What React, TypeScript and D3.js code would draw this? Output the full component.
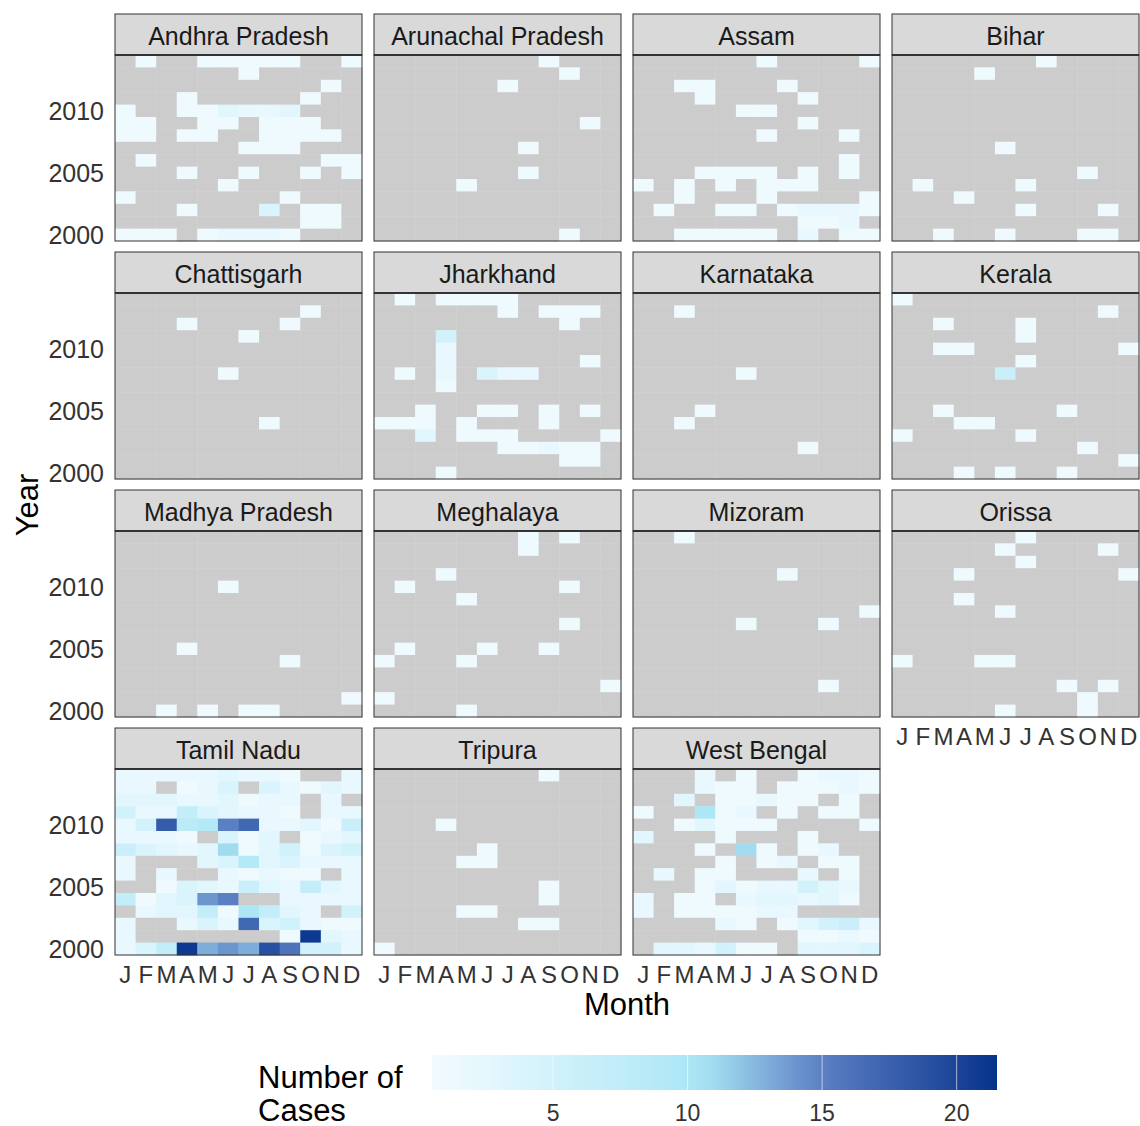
import React from 'react';
import * as d3 from 'd3';

// rows run from 2014 (top) down to 2000 (bottom), columns Jan..Dec; 0 = no data
const YEARS = [2014, 2013, 2012, 2011, 2010, 2009, 2008, 2007, 2006, 2005, 2004, 2003, 2002, 2001, 2000];
const MONTHS = ['J', 'F', 'M', 'A', 'M', 'J', 'J', 'A', 'S', 'O', 'N', 'D'];
const YEAR_TICKS = [2000, 2005, 2010];
const LEGEND_TICKS = [5, 10, 15, 20];

const andhraPradesh = [
  [0, 1, 0, 0, 1, 1, 1, 1, 1, 0, 0, 1],
  [0, 0, 0, 0, 0, 0, 1, 0, 0, 0, 0, 0],
  [0, 0, 0, 0, 0, 0, 0, 0, 0, 0, 1, 0],
  [0, 0, 0, 1, 0, 0, 0, 0, 0, 1, 0, 0],
  [1, 0, 0, 1, 1, 3, 2, 2, 3, 0, 0, 0],
  [1, 1, 0, 0, 1, 1, 0, 1, 1, 1, 0, 0],
  [1, 1, 0, 1, 1, 0, 0, 1, 1, 1, 1, 0],
  [0, 0, 0, 0, 0, 0, 1, 1, 1, 0, 0, 0],
  [0, 1, 0, 0, 0, 0, 0, 0, 0, 0, 1, 1],
  [0, 0, 0, 1, 0, 0, 1, 0, 0, 1, 0, 1],
  [0, 0, 0, 0, 0, 1, 0, 0, 0, 0, 0, 0],
  [1, 0, 0, 0, 0, 0, 0, 0, 1, 0, 0, 0],
  [0, 0, 0, 1, 0, 0, 0, 4, 0, 1, 1, 0],
  [0, 0, 0, 0, 0, 0, 0, 0, 0, 1, 1, 0],
  [1, 1, 1, 0, 1, 2, 2, 2, 1, 0, 0, 0],
];
const arunachalPradesh = [
  [0, 0, 0, 0, 0, 0, 0, 0, 1, 0, 0, 0],
  [0, 0, 0, 0, 0, 0, 0, 0, 0, 1, 0, 0],
  [0, 0, 0, 0, 0, 0, 1, 0, 0, 0, 0, 0],
  [0, 0, 0, 0, 0, 0, 0, 0, 0, 0, 0, 0],
  [0, 0, 0, 0, 0, 0, 0, 0, 0, 0, 0, 0],
  [0, 0, 0, 0, 0, 0, 0, 0, 0, 0, 1, 0],
  [0, 0, 0, 0, 0, 0, 0, 0, 0, 0, 0, 0],
  [0, 0, 0, 0, 0, 0, 0, 1, 0, 0, 0, 0],
  [0, 0, 0, 0, 0, 0, 0, 0, 0, 0, 0, 0],
  [0, 0, 0, 0, 0, 0, 0, 1, 0, 0, 0, 0],
  [0, 0, 0, 0, 1, 0, 0, 0, 0, 0, 0, 0],
  [0, 0, 0, 0, 0, 0, 0, 0, 0, 0, 0, 0],
  [0, 0, 0, 0, 0, 0, 0, 0, 0, 0, 0, 0],
  [0, 0, 0, 0, 0, 0, 0, 0, 0, 0, 0, 0],
  [0, 0, 0, 0, 0, 0, 0, 0, 0, 1, 0, 0],
];
const assam = [
  [0, 0, 0, 0, 0, 0, 1, 0, 0, 0, 0, 1],
  [0, 0, 0, 0, 0, 0, 0, 0, 0, 0, 0, 0],
  [0, 0, 1, 1, 0, 0, 0, 1, 0, 0, 0, 0],
  [0, 0, 0, 1, 0, 0, 0, 0, 1, 0, 0, 0],
  [0, 0, 0, 0, 0, 1, 1, 0, 0, 0, 0, 0],
  [0, 0, 0, 0, 0, 0, 0, 0, 1, 0, 0, 0],
  [0, 0, 0, 0, 0, 0, 1, 0, 0, 0, 1, 0],
  [0, 0, 0, 0, 0, 0, 0, 0, 0, 0, 0, 0],
  [0, 0, 0, 0, 0, 0, 0, 0, 0, 0, 1, 0],
  [0, 0, 0, 1, 1, 1, 1, 0, 1, 0, 1, 0],
  [1, 0, 1, 0, 1, 0, 1, 1, 1, 0, 0, 0],
  [0, 0, 1, 0, 0, 0, 1, 0, 0, 0, 0, 1],
  [0, 1, 0, 0, 1, 1, 0, 1, 2, 2, 2, 1],
  [0, 0, 0, 0, 0, 0, 0, 0, 1, 1, 2, 0],
  [0, 0, 1, 1, 1, 1, 1, 0, 2, 0, 1, 1],
];
const bihar = [
  [0, 0, 0, 0, 0, 0, 0, 1, 0, 0, 0, 0],
  [0, 0, 0, 0, 1, 0, 0, 0, 0, 0, 0, 0],
  [0, 0, 0, 0, 0, 0, 0, 0, 0, 0, 0, 0],
  [0, 0, 0, 0, 0, 0, 0, 0, 0, 0, 0, 0],
  [0, 0, 0, 0, 0, 0, 0, 0, 0, 0, 0, 0],
  [0, 0, 0, 0, 0, 0, 0, 0, 0, 0, 0, 0],
  [0, 0, 0, 0, 0, 0, 0, 0, 0, 0, 0, 0],
  [0, 0, 0, 0, 0, 1, 0, 0, 0, 0, 0, 0],
  [0, 0, 0, 0, 0, 0, 0, 0, 0, 0, 0, 0],
  [0, 0, 0, 0, 0, 0, 0, 0, 0, 1, 0, 0],
  [0, 1, 0, 0, 0, 0, 1, 0, 0, 0, 0, 0],
  [0, 0, 0, 1, 0, 0, 0, 0, 0, 0, 0, 0],
  [0, 0, 0, 0, 0, 0, 1, 0, 0, 0, 1, 0],
  [0, 0, 0, 0, 0, 0, 0, 0, 0, 0, 0, 0],
  [0, 0, 1, 0, 0, 1, 0, 0, 0, 1, 1, 0],
];
const chattisgarh = [
  [0, 0, 0, 0, 0, 0, 0, 0, 0, 0, 0, 0],
  [0, 0, 0, 0, 0, 0, 0, 0, 0, 1, 0, 0],
  [0, 0, 0, 1, 0, 0, 0, 0, 1, 0, 0, 0],
  [0, 0, 0, 0, 0, 0, 1, 0, 0, 0, 0, 0],
  [0, 0, 0, 0, 0, 0, 0, 0, 0, 0, 0, 0],
  [0, 0, 0, 0, 0, 0, 0, 0, 0, 0, 0, 0],
  [0, 0, 0, 0, 0, 1, 0, 0, 0, 0, 0, 0],
  [0, 0, 0, 0, 0, 0, 0, 0, 0, 0, 0, 0],
  [0, 0, 0, 0, 0, 0, 0, 0, 0, 0, 0, 0],
  [0, 0, 0, 0, 0, 0, 0, 0, 0, 0, 0, 0],
  [0, 0, 0, 0, 0, 0, 0, 1, 0, 0, 0, 0],
  [0, 0, 0, 0, 0, 0, 0, 0, 0, 0, 0, 0],
  [0, 0, 0, 0, 0, 0, 0, 0, 0, 0, 0, 0],
  [0, 0, 0, 0, 0, 0, 0, 0, 0, 0, 0, 0],
  [0, 0, 0, 0, 0, 0, 0, 0, 0, 0, 0, 0],
];
const jharkhand = [
  [0, 1, 0, 1, 1, 1, 1, 0, 0, 0, 0, 0],
  [0, 0, 0, 0, 0, 0, 1, 0, 1, 1, 1, 0],
  [0, 0, 0, 0, 0, 0, 0, 0, 0, 1, 0, 0],
  [0, 0, 0, 5, 0, 0, 0, 0, 0, 0, 0, 0],
  [0, 0, 0, 2, 0, 0, 0, 0, 0, 0, 0, 0],
  [0, 0, 0, 2, 0, 0, 0, 0, 0, 0, 1, 0],
  [0, 1, 0, 2, 0, 4, 2, 2, 0, 0, 0, 0],
  [0, 0, 0, 1, 0, 0, 0, 0, 0, 0, 0, 0],
  [0, 0, 0, 0, 0, 0, 0, 0, 0, 0, 0, 0],
  [0, 0, 1, 0, 0, 1, 1, 0, 1, 0, 1, 0],
  [1, 1, 1, 0, 1, 0, 0, 0, 1, 0, 0, 0],
  [0, 0, 3, 0, 1, 1, 1, 0, 0, 0, 0, 1],
  [0, 0, 0, 0, 0, 0, 1, 1, 2, 1, 1, 0],
  [0, 0, 0, 0, 0, 0, 0, 0, 0, 1, 1, 0],
  [0, 0, 0, 1, 0, 0, 0, 0, 0, 0, 0, 0],
];
const karnataka = [
  [0, 0, 0, 0, 0, 0, 0, 0, 0, 0, 0, 0],
  [0, 0, 1, 0, 0, 0, 0, 0, 0, 0, 0, 0],
  [0, 0, 0, 0, 0, 0, 0, 0, 0, 0, 0, 0],
  [0, 0, 0, 0, 0, 0, 0, 0, 0, 0, 0, 0],
  [0, 0, 0, 0, 0, 0, 0, 0, 0, 0, 0, 0],
  [0, 0, 0, 0, 0, 0, 0, 0, 0, 0, 0, 0],
  [0, 0, 0, 0, 0, 1, 0, 0, 0, 0, 0, 0],
  [0, 0, 0, 0, 0, 0, 0, 0, 0, 0, 0, 0],
  [0, 0, 0, 0, 0, 0, 0, 0, 0, 0, 0, 0],
  [0, 0, 0, 1, 0, 0, 0, 0, 0, 0, 0, 0],
  [0, 0, 1, 0, 0, 0, 0, 0, 0, 0, 0, 0],
  [0, 0, 0, 0, 0, 0, 0, 0, 0, 0, 0, 0],
  [0, 0, 0, 0, 0, 0, 0, 0, 1, 0, 0, 0],
  [0, 0, 0, 0, 0, 0, 0, 0, 0, 0, 0, 0],
  [0, 0, 0, 0, 0, 0, 0, 0, 0, 0, 0, 0],
];
const kerala = [
  [1, 0, 0, 0, 0, 0, 0, 0, 0, 0, 0, 0],
  [0, 0, 0, 0, 0, 0, 0, 0, 0, 0, 1, 0],
  [0, 0, 1, 0, 0, 0, 1, 0, 0, 0, 0, 0],
  [0, 0, 0, 0, 0, 0, 1, 0, 0, 0, 0, 0],
  [0, 0, 1, 1, 0, 0, 0, 0, 0, 0, 0, 1],
  [0, 0, 0, 0, 0, 0, 1, 0, 0, 0, 0, 0],
  [0, 0, 0, 0, 0, 6, 0, 0, 0, 0, 0, 0],
  [0, 0, 0, 0, 0, 0, 0, 0, 0, 0, 0, 0],
  [0, 0, 0, 0, 0, 0, 0, 0, 0, 0, 0, 0],
  [0, 0, 1, 0, 0, 0, 0, 0, 1, 0, 0, 0],
  [0, 0, 0, 1, 1, 0, 0, 0, 0, 0, 0, 0],
  [1, 0, 0, 0, 0, 0, 1, 0, 0, 0, 0, 0],
  [0, 0, 0, 0, 0, 0, 0, 0, 0, 1, 0, 0],
  [0, 0, 0, 0, 0, 0, 0, 0, 0, 0, 0, 1],
  [0, 0, 0, 1, 0, 1, 0, 0, 1, 0, 0, 0],
];
const madhyaPradesh = [
  [0, 0, 0, 0, 0, 0, 0, 0, 0, 0, 0, 0],
  [0, 0, 0, 0, 0, 0, 0, 0, 0, 0, 0, 0],
  [0, 0, 0, 0, 0, 0, 0, 0, 0, 0, 0, 0],
  [0, 0, 0, 0, 0, 0, 0, 0, 0, 0, 0, 0],
  [0, 0, 0, 0, 0, 1, 0, 0, 0, 0, 0, 0],
  [0, 0, 0, 0, 0, 0, 0, 0, 0, 0, 0, 0],
  [0, 0, 0, 0, 0, 0, 0, 0, 0, 0, 0, 0],
  [0, 0, 0, 0, 0, 0, 0, 0, 0, 0, 0, 0],
  [0, 0, 0, 0, 0, 0, 0, 0, 0, 0, 0, 0],
  [0, 0, 0, 1, 0, 0, 0, 0, 0, 0, 0, 0],
  [0, 0, 0, 0, 0, 0, 0, 0, 1, 0, 0, 0],
  [0, 0, 0, 0, 0, 0, 0, 0, 0, 0, 0, 0],
  [0, 0, 0, 0, 0, 0, 0, 0, 0, 0, 0, 0],
  [0, 0, 0, 0, 0, 0, 0, 0, 0, 0, 0, 1],
  [0, 0, 1, 0, 1, 0, 1, 1, 0, 0, 0, 0],
];
const meghalaya = [
  [0, 0, 0, 0, 0, 0, 0, 1, 0, 1, 0, 0],
  [0, 0, 0, 0, 0, 0, 0, 1, 0, 0, 0, 0],
  [0, 0, 0, 0, 0, 0, 0, 0, 0, 0, 0, 0],
  [0, 0, 0, 1, 0, 0, 0, 0, 0, 0, 0, 0],
  [0, 1, 0, 0, 0, 0, 0, 0, 0, 1, 0, 0],
  [0, 0, 0, 0, 1, 0, 0, 0, 0, 0, 0, 0],
  [0, 0, 0, 0, 0, 0, 0, 0, 0, 0, 0, 0],
  [0, 0, 0, 0, 0, 0, 0, 0, 0, 1, 0, 0],
  [0, 0, 0, 0, 0, 0, 0, 0, 0, 0, 0, 0],
  [0, 1, 0, 0, 0, 1, 0, 0, 1, 0, 0, 0],
  [1, 0, 0, 0, 1, 0, 0, 0, 0, 0, 0, 0],
  [0, 0, 0, 0, 0, 0, 0, 0, 0, 0, 0, 0],
  [0, 0, 0, 0, 0, 0, 0, 0, 0, 0, 0, 1],
  [1, 0, 0, 0, 0, 0, 0, 0, 0, 0, 0, 0],
  [0, 0, 0, 0, 1, 0, 0, 0, 0, 0, 0, 0],
];
const mizoram = [
  [0, 0, 1, 0, 0, 0, 0, 0, 0, 0, 0, 0],
  [0, 0, 0, 0, 0, 0, 0, 0, 0, 0, 0, 0],
  [0, 0, 0, 0, 0, 0, 0, 0, 0, 0, 0, 0],
  [0, 0, 0, 0, 0, 0, 0, 1, 0, 0, 0, 0],
  [0, 0, 0, 0, 0, 0, 0, 0, 0, 0, 0, 0],
  [0, 0, 0, 0, 0, 0, 0, 0, 0, 0, 0, 0],
  [0, 0, 0, 0, 0, 0, 0, 0, 0, 0, 0, 1],
  [0, 0, 0, 0, 0, 1, 0, 0, 0, 1, 0, 0],
  [0, 0, 0, 0, 0, 0, 0, 0, 0, 0, 0, 0],
  [0, 0, 0, 0, 0, 0, 0, 0, 0, 0, 0, 0],
  [0, 0, 0, 0, 0, 0, 0, 0, 0, 0, 0, 0],
  [0, 0, 0, 0, 0, 0, 0, 0, 0, 0, 0, 0],
  [0, 0, 0, 0, 0, 0, 0, 0, 0, 1, 0, 0],
  [0, 0, 0, 0, 0, 0, 0, 0, 0, 0, 0, 0],
  [0, 0, 0, 0, 0, 0, 0, 0, 0, 0, 0, 0],
];
const orissa = [
  [0, 0, 0, 0, 0, 0, 1, 0, 0, 0, 0, 0],
  [0, 0, 0, 0, 0, 1, 0, 0, 0, 0, 1, 0],
  [0, 0, 0, 0, 0, 0, 1, 0, 0, 0, 0, 0],
  [0, 0, 0, 1, 0, 0, 0, 0, 0, 0, 0, 1],
  [0, 0, 0, 0, 0, 0, 0, 0, 0, 0, 0, 0],
  [0, 0, 0, 1, 0, 0, 0, 0, 0, 0, 0, 0],
  [0, 0, 0, 0, 0, 1, 0, 0, 0, 0, 0, 0],
  [0, 0, 0, 0, 0, 0, 0, 0, 0, 0, 0, 0],
  [0, 0, 0, 0, 0, 0, 0, 0, 0, 0, 0, 0],
  [0, 0, 0, 0, 0, 0, 0, 0, 0, 0, 0, 0],
  [1, 0, 0, 0, 1, 1, 0, 0, 0, 0, 0, 0],
  [0, 0, 0, 0, 0, 0, 0, 0, 0, 0, 0, 0],
  [0, 0, 0, 0, 0, 0, 0, 0, 1, 0, 1, 0],
  [0, 0, 0, 0, 0, 0, 0, 0, 0, 1, 0, 0],
  [0, 0, 0, 0, 0, 1, 0, 0, 0, 1, 0, 0],
];
const tamilNadu = [
  [2, 2, 2, 2, 2, 3, 2, 2, 1, 0, 0, 2],
  [2, 2, 0, 1, 2, 4, 0, 4, 2, 1, 3, 2],
  [3, 3, 3, 2, 2, 3, 1, 2, 2, 0, 2, 0],
  [5, 2, 2, 7, 4, 3, 2, 2, 1, 0, 2, 2],
  [2, 5, 18, 8, 9, 15, 17, 2, 2, 3, 1, 6],
  [2, 2, 2, 1, 0, 4, 1, 3, 0, 1, 2, 3],
  [6, 4, 3, 2, 3, 11, 1, 3, 5, 1, 4, 5],
  [2, 0, 0, 0, 3, 4, 9, 3, 4, 2, 2, 2],
  [2, 0, 2, 0, 0, 2, 1, 2, 1, 1, 0, 2],
  [0, 0, 1, 4, 3, 2, 6, 3, 2, 7, 3, 2],
  [7, 1, 3, 4, 14, 15, 0, 0, 2, 2, 2, 2],
  [0, 2, 3, 3, 7, 1, 10, 7, 3, 2, 0, 5],
  [2, 0, 0, 2, 4, 2, 17, 4, 5, 2, 1, 1],
  [2, 0, 0, 0, 0, 0, 0, 0, 1, 21, 3, 2],
  [2, 4, 7, 21, 13, 14, 13, 19, 16, 5, 5, 2],
];
const tripura = [
  [0, 0, 0, 0, 0, 0, 0, 0, 1, 0, 0, 0],
  [0, 0, 0, 0, 0, 0, 0, 0, 0, 0, 0, 0],
  [0, 0, 0, 0, 0, 0, 0, 0, 0, 0, 0, 0],
  [0, 0, 0, 0, 0, 0, 0, 0, 0, 0, 0, 0],
  [0, 0, 0, 1, 0, 0, 0, 0, 0, 0, 0, 0],
  [0, 0, 0, 0, 0, 0, 0, 0, 0, 0, 0, 0],
  [0, 0, 0, 0, 0, 1, 0, 0, 0, 0, 0, 0],
  [0, 0, 0, 0, 1, 1, 0, 0, 0, 0, 0, 0],
  [0, 0, 0, 0, 0, 0, 0, 0, 0, 0, 0, 0],
  [0, 0, 0, 0, 0, 0, 0, 0, 1, 0, 0, 0],
  [0, 0, 0, 0, 0, 0, 0, 0, 1, 0, 0, 0],
  [0, 0, 0, 0, 1, 1, 0, 0, 0, 0, 0, 0],
  [0, 0, 0, 0, 0, 0, 0, 1, 1, 0, 0, 0],
  [0, 0, 0, 0, 0, 0, 0, 0, 0, 0, 0, 0],
  [1, 0, 0, 0, 0, 0, 0, 0, 0, 0, 0, 0],
];
const westBengal = [
  [0, 0, 0, 2, 0, 1, 0, 0, 1, 2, 2, 1],
  [0, 0, 0, 2, 1, 1, 0, 1, 1, 1, 2, 1],
  [0, 0, 3, 0, 1, 1, 2, 1, 1, 0, 1, 0],
  [1, 0, 0, 10, 1, 2, 0, 1, 0, 1, 1, 0],
  [0, 0, 1, 3, 1, 1, 1, 0, 0, 0, 0, 1],
  [3, 0, 0, 0, 1, 0, 0, 0, 1, 0, 0, 0],
  [0, 0, 0, 1, 0, 11, 1, 0, 1, 2, 0, 0],
  [0, 0, 0, 0, 1, 0, 1, 2, 0, 1, 1, 0],
  [0, 2, 0, 1, 1, 0, 0, 0, 2, 0, 1, 0],
  [0, 0, 0, 1, 3, 1, 2, 2, 5, 3, 2, 0],
  [2, 0, 1, 1, 0, 2, 3, 3, 2, 3, 1, 0],
  [2, 0, 1, 1, 1, 1, 2, 2, 0, 0, 0, 0],
  [0, 0, 0, 0, 2, 1, 0, 1, 3, 5, 6, 2],
  [0, 0, 0, 0, 0, 0, 0, 0, 1, 1, 2, 1],
  [0, 3, 3, 2, 5, 1, 1, 0, 3, 3, 3, 4],
];

const STATES = [
  'Andhra Pradesh', 'Arunachal Pradesh', 'Assam', 'Bihar',
  'Chattisgarh', 'Jharkhand', 'Karnataka', 'Kerala',
  'Madhya Pradesh', 'Meghalaya', 'Mizoram', 'Orissa',
  'Tamil Nadu', 'Tripura', 'West Bengal',
];
const GRIDS = [
  andhraPradesh, arunachalPradesh, assam, bihar,
  chattisgarh, jharkhand, karnataka, kerala,
  madhyaPradesh, meghalaya, mizoram, orissa,
  tamilNadu, tripura, westBengal,
];

const FONT = 'Liberation Sans, Arial, Helvetica, sans-serif';
const NA_FILL = '#cccccc';

// facet geometry
const COL_X = [115, 374, 633, 892];
const ROW_Y = [14, 252, 490, 728];
const PANEL_W = 247;
const STRIP_H = 41;
const BODY_H = 186;

const color = d3.scaleLinear<string>()
  .domain([0.5, 10.5, 15, 21.5])
  .range(['#f3fbff', '#a9e6f6', '#5b7fc3', '#08338c'])
  .interpolate(d3.interpolateRgb);

const x = d3.scaleBand<number>().domain(d3.range(12)).range([0, PANEL_W]);
const y = d3.scaleBand<number>().domain(YEARS).range([0, BODY_H]);

const legendX = d3.scaleLinear().domain([0.5, 21.5]).range([432, 997]);

function Panel({ name, grid, idx }: { name: string; grid: number[][]; idx: number }) {
  const col = idx % 4;
  const row = Math.floor(idx / 4);
  const px = COL_X[col];
  const sy = ROW_Y[row];
  const by = sy + STRIP_H;
  const showMonths = row === 3 || (row === 2 && col === 3);
  return (
    <g>
      <rect x={px} y={sy} width={PANEL_W} height={STRIP_H} fill="#d9d9d9" stroke="#333" strokeWidth={1} />
      <text x={px + PANEL_W / 2} y={sy + STRIP_H / 2 + 1} textAnchor="middle" dominantBaseline="central"
        fontSize={25} fill="#1a1a1a">{name}</text>
      <g transform={`translate(${px},${by})`}>
        {grid.map((vals, r) => vals.map((v, m) => (
          <rect key={`${r}-${m}`} x={x(m)} y={y(YEARS[r])} width={x.bandwidth() + 0.4} height={y.bandwidth() + 0.4}
            fill={v > 0 ? color(v) : NA_FILL} />
        )))}
        <rect x={0} y={0} width={PANEL_W} height={BODY_H} fill="none" stroke="#333" strokeWidth={1} />
        <line x1={0} x2={PANEL_W} y1={0} y2={0} stroke="#333" strokeWidth={2} />
        {col === 0 && YEAR_TICKS.map((yr) => (
          <text key={yr} x={-11} y={(y(yr) as number) + y.bandwidth() / 2} textAnchor="end" dominantBaseline="central"
            fontSize={25} fill="#333">{yr}</text>
        ))}
        {showMonths && MONTHS.map((mn, m) => (
          <text key={m} x={(x(m) as number) + x.bandwidth() / 2} y={BODY_H + 19} textAnchor="middle" dominantBaseline="central"
            fontSize={24} fill="#333">{mn}</text>
        ))}
      </g>
    </g>
  );
}

export default function App() {
  const stops = d3.range(0, 1.0001, 0.05).map((t) => {
    const v = 0.5 + t * 21;
    return { off: t, c: color(v) };
  });
  return (
    <svg width={1140} height={1126} style={{ position: 'absolute', left: 0, top: 0, background: '#fff' }}
      fontFamily={FONT}>
      <defs>
        <linearGradient id="lg" x1="0" x2="1" y1="0" y2="0">
          {stops.map((s, i) => <stop key={i} offset={s.off} stopColor={s.c} />)}
        </linearGradient>
      </defs>
      <rect width={1140} height={1126} fill="#fff" />
      {STATES.map((s, i) => <Panel key={s} name={s} grid={GRIDS[i]} idx={i} />)}

      <text transform="translate(27,505) rotate(-90)" textAnchor="middle" dominantBaseline="central"
        fontSize={31} fill="#000">Year</text>
      <text x={627} y={1004} textAnchor="middle" dominantBaseline="central" fontSize={31} fill="#000">Month</text>

      <text x={258} y={1077} dominantBaseline="central" fontSize={31} fill="#000">Number of</text>
      <text x={258} y={1110} dominantBaseline="central" fontSize={31} fill="#000">Cases</text>
      <rect x={legendX(0.5)} y={1055} width={legendX(21.5) - legendX(0.5)} height={35} fill="url(#lg)" />
      {LEGEND_TICKS.map((t) => (
        <g key={t}>
          <line x1={legendX(t)} x2={legendX(t)} y1={1055} y2={1090} stroke="#fff" strokeOpacity={0.6} strokeWidth={1} />
          <text x={legendX(t)} y={1113} textAnchor="middle" dominantBaseline="central" fontSize={23} fill="#333">{t}</text>
        </g>
      ))}
    </svg>
  );
}
